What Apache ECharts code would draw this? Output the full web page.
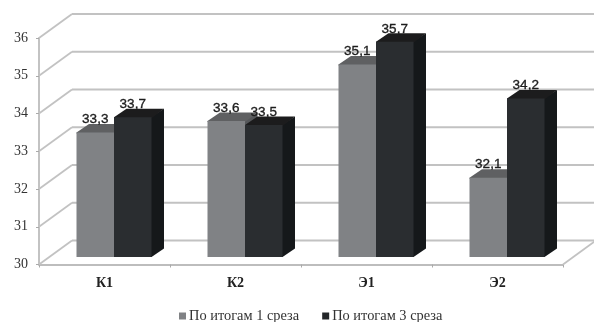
<!DOCTYPE html>
<html><head><meta charset="utf-8">
<script src="https://cdn.jsdelivr.net/npm/echarts@6/dist/echarts.min.js"></script>
<style>html,body{margin:0;padding:0;background:#fff}#c{width:594px;height:322px;filter:blur(0.5px)}</style>
</head><body><div id="c"></div>
<script>
const categories = ['К1','К2','Э1','Э2'];
const seriesNames = ['По итогам 1 среза','По итогам 3 среза'];
const cut1 = [33.3,33.6,35.1,32.1];
const cut3 = [33.7,33.5,35.7,34.2];
const yTicks = [30,31,32,33,34,35,36];

const wallDX = 33, wallDY = -24;
const barW = 37.5, depthX = 12.5, depthY = -8.5, baseDX = 9.5, baseDY = -7.5;
const serif = '"Liberation Serif"';

function wall(params, api){
  const cs = params.coordSys;
  const v = api.value(1);
  const y = api.coord([0, v])[1];
  const x0 = cs.x, bx = x0 + wallDX, by = y + wallDY;
  const style = {stroke:'#c2c2c2', lineWidth:1.8, fill:null};
  const kids = [
    {type:'line', shape:{x1:x0,y1:y,x2:bx,y2:by}, style},
    {type:'line', shape:{x1:bx,y1:by,x2:594,y2:by}, style}
  ];
  if (v === yTicks[0]) {
    const rx = cs.x + cs.width;
    kids.push({type:'line', shape:{x1:rx,y1:y,x2:rx+wallDX,y2:by}, style});
  }
  return {type:'group', children:kids};
}

function barRenderer(side, front, top, dark){
  return function(params, api){
    const i = api.value(0), v = api.value(1);
    const p = api.coord([i, v]);
    const b = api.coord([i, yTicks[0]]);
    const xL = p[0] + baseDX + (side < 0 ? -barW : 0);
    const xR = xL + barW;
    const yT = p[1] + baseDY, yB = b[1] + baseDY;
    return {type:'group', children:[
      {type:'polygon', shape:{points:[[xR-1,yT],[xR+depthX,yT+depthY],[xR+depthX,yB+depthY],[xR,yB],[xR-1,yB]]}, style:{fill:dark}},
      {type:'polygon', shape:{points:[[xL,yT+1],[xL,yT],[xL+depthX,yT+depthY],[xR+depthX,yT+depthY],[xR,yT+1]]}, style:{fill:top}},
      {type:'rect', shape:{x:xL,y:yT,width:barW,height:yB-yT}, style:{fill:front}},
      {type:'text', x:(xL+xR)/2, y:yT-13, style:{text:String(v).replace('.',','), fill:'#1c1c1c',
        stroke:'#1c1c1c', lineWidth:0.35,
        font:'13.5px "Liberation Sans"', textAlign:'center', textVerticalAlign:'middle'}}
    ]};
  };
}

const chart = echarts.init(document.getElementById('c'), null, {renderer:'canvas'});
chart.setOption({
  animation:false,
  backgroundColor:'#fff',
  grid:{left:39,top:38,width:524,height:226.5},
  legend:{
    data:seriesNames, top:304, left:174, itemWidth:7, itemHeight:7, itemGap:23,
    icon:'rect',
    textStyle:{fontFamily:serif,fontSize:14.4,color:'#333',padding:[0,0,0,-2]}
  },
  xAxis:{type:'category',data:categories,
    axisLine:{lineStyle:{color:'#bdbdbd',width:1.8}},
    axisTick:{show:true,length:3,lineStyle:{color:'#aaa'}},
    axisLabel:{margin:12,fontFamily:serif,fontWeight:'bold',fontSize:14,color:'#222'},
    splitLine:{show:false}
  },
  yAxis:{type:'value',min:30,max:36,interval:1,
    axisLine:{show:true,lineStyle:{color:'#bdbdbd',width:1.8}},
    axisTick:{show:true,length:3,lineStyle:{color:'#aaa'}},
    axisLabel:{margin:11,fontFamily:serif,fontSize:14,color:'#333'},
    splitLine:{show:false}
  },
  series:[
    {type:'custom',silent:true,renderItem:wall,data:yTicks.map(v=>[0,v]),encode:{x:0,y:1},z:1},
    {type:'custom',name:seriesNames[0],itemStyle:{color:'#808285'},
      renderItem:barRenderer(-1,'#808285','#5f6062','#55575a'),
      data:cut1.map((v,i)=>[i,v]),encode:{x:0,y:1},z:2},
    {type:'custom',name:seriesNames[1],itemStyle:{color:'#232629'},
      renderItem:barRenderer(1,'#2a2d30','#1c1c1d','#15181a'),
      data:cut3.map((v,i)=>[i,v]),encode:{x:0,y:1},z:3}
  ]
});
</script></body></html>
